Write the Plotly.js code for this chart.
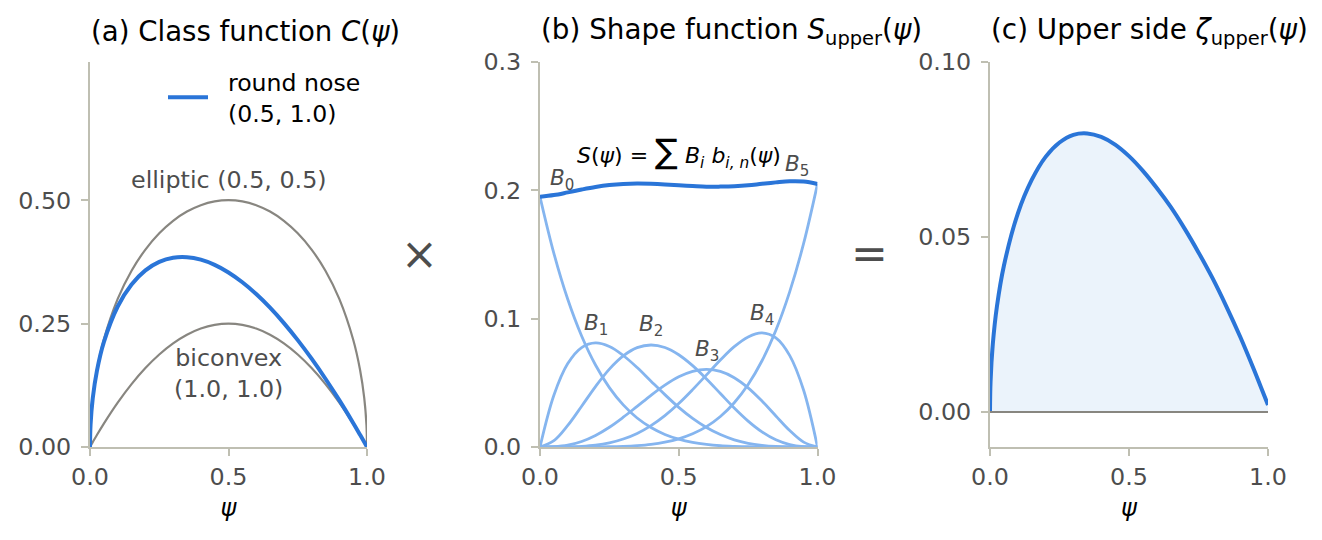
<!DOCTYPE html>
<html>
<head>
<meta charset="utf-8">
<script src="https://cdn.plot.ly/plotly-3.0.1.min.js"></script>
<style>html,body{margin:0;padding:0;background:#fff}</style>
</head>
<body>
<div id="chart" style="width:1322px;height:540px"></div>
<script>
// psi grid for panel (a) and (c), denser at the ends where the curves are steep
var psiFine = [0,0.002,0.01,0.025,0.05,0.1,0.15,0.2,0.25,0.3,0.35,0.4,0.45,0.5,0.55,0.6,0.65,0.7,0.75,0.8,0.85,0.9,0.95,0.975,0.99,0.998,1];
var elliptic = [0,0.0447,0.0995,0.1561,0.2179,0.3,0.3571,0.4,0.433,0.4583,0.477,0.4899,0.4975,0.5,0.4975,0.4899,0.477,0.4583,0.433,0.4,0.3571,0.3,0.2179,0.1561,0.0995,0.0447,0];
var biconvex = [0,0.002,0.0099,0.0244,0.0475,0.09,0.1275,0.16,0.1875,0.21,0.2275,0.24,0.2475,0.25,0.2475,0.24,0.2275,0.21,0.1875,0.16,0.1275,0.09,0.0475,0.0244,0.0099,0.002,0];
var roundNose = [0,0.0446,0.099,0.1542,0.2124,0.2846,0.3292,0.3578,0.375,0.3834,0.3845,0.3795,0.369,0.3536,0.3337,0.3098,0.2822,0.251,0.2165,0.1789,0.1383,0.0949,0.0487,0.0247,0.01,0.002,0];

// panel (b)
var psi = [0,0.05,0.1,0.15,0.2,0.25,0.3,0.35,0.4,0.45,0.5,0.55,0.6,0.65,0.7,0.75,0.8,0.85,0.9,0.95,1];
var b0 = [0.195,0.1509,0.1151,0.0865,0.0639,0.0463,0.0328,0.0226,0.0152,0.0098,0.0061,0.0036,0.002,0.001,0.0005,0.0002,0.0001,0,0,0,0];
var b1 = [0,0.0403,0.065,0.0775,0.0811,0.0783,0.0713,0.0619,0.0513,0.0408,0.0309,0.0223,0.0152,0.0097,0.0056,0.0029,0.0013,0.0004,0.0001,0,0];
var b2 = [0,0.0049,0.0168,0.0318,0.0471,0.0607,0.071,0.0774,0.0795,0.0775,0.0719,0.0634,0.053,0.0417,0.0304,0.0202,0.0118,0.0056,0.0019,0.0003,0];
var b3 = [0,0.0002,0.0014,0.0043,0.009,0.0154,0.0232,0.0317,0.0403,0.0482,0.0547,0.059,0.0605,0.0589,0.054,0.0461,0.0358,0.0242,0.0128,0.0038,0];
var b4 = [0,0,0.0001,0.0005,0.0014,0.0032,0.0062,0.0106,0.0167,0.0245,0.0339,0.0447,0.0562,0.0678,0.0782,0.0858,0.0889,0.085,0.0712,0.0442,0];
var b5 = [0,0,0,0,0.0001,0.0002,0.0005,0.0011,0.0021,0.0038,0.0064,0.0103,0.0159,0.0238,0.0345,0.0487,0.0672,0.091,0.1211,0.1586,0.205];
var shape = [0.195,0.1963,0.1984,0.2006,0.2026,0.2041,0.205,0.2053,0.2051,0.2046,0.2039,0.2033,0.2028,0.2029,0.2032,0.2039,0.2051,0.2062,0.2071,0.2069,0.205];

// panel (c)
var psiUpper = [0,0.002,0.01,0.025,0.05,0.1,0.15,0.2,0.25,0.3,0.35,0.4,0.45,0.5,0.55,0.6,0.65,0.7,0.75,0.8,0.85,0.9,0.95,0.975,1];
var upper = [0,0.0087,0.0193,0.0302,0.0418,0.0567,0.0663,0.0729,0.077,0.0792,0.0796,0.0786,0.0764,0.0731,0.0689,0.064,0.0586,0.0524,0.0456,0.0383,0.0302,0.0215,0.012,0.007,0.002];
var baseX = [0,1];
var baseY = [0,0];

var xTicks = [0,0.5,1];
var yTicksA = [0,0.25,0.5];
var yTicksB = [0,0.1,0.2,0.3];
var yTicksC = [0,0.05,0.1];

var BLUE = '#2a75d8', LIGHT = '#85b5ef', GREY = '#888680', AXIS = '#bfbfb2', TICK = '#4d4d4d';
var FONT = '"DejaVu Sans", sans-serif';
var W = 1322, H = 540;

function line(x, y, color, width, xa, ya, extra){
    var t = {x:x, y:y, xaxis:xa, yaxis:ya, mode:'lines', showlegend:false, hoverinfo:'skip',
             line:{color:color, width:width, shape:'spline', smoothing:1}};
    for (var k in extra){ t[k] = extra[k]; }
    return t;
}

var data = [
    line(psiFine, elliptic, GREY, 2.2, 'x', 'y', {cliponaxis:false}),
    line(psiFine, biconvex, GREY, 2.2, 'x', 'y', {cliponaxis:false}),
    line(psiFine, roundNose, BLUE, 4, 'x', 'y', {cliponaxis:false, showlegend:true, name:'&nbsp;&nbsp;round nose<br>&nbsp;&nbsp;(0.5, 1.0)'}),
    line(psi, b0, LIGHT, 2.8, 'x2', 'y2', {cliponaxis:false}),
    line(psi, b1, LIGHT, 2.8, 'x2', 'y2', {cliponaxis:false}),
    line(psi, b2, LIGHT, 2.8, 'x2', 'y2', {cliponaxis:false}),
    line(psi, b3, LIGHT, 2.8, 'x2', 'y2', {cliponaxis:false}),
    line(psi, b4, LIGHT, 2.8, 'x2', 'y2', {cliponaxis:false}),
    line(psi, b5, LIGHT, 2.8, 'x2', 'y2', {cliponaxis:false}),
    line(psi, shape, BLUE, 4, 'x2', 'y2', {cliponaxis:false}),
    line(psiUpper, upper, BLUE, 4, 'x3', 'y3', {fill:'tozeroy', fillcolor:'#ebf3fb'}),
    line(baseX, baseY, GREY, 2.2, 'x3', 'y3', {cliponaxis:false})
];

function xAxis(left, right, anchor){
    return {domain:[left/W, right/W], range:[0,1], anchor:anchor, tickmode:'array', tickvals:xTicks,
            ticktext:['0.0','0.5','1.0'], ticks:'outside', ticklen:7, tickwidth:2, tickcolor:AXIS,
            showline:true, linecolor:AXIS, linewidth:2, showgrid:false, zeroline:false,
            tickfont:{family:FONT, size:23.8, color:TICK},
            title:{text:'<i>ψ</i>', font:{family:FONT, size:24, color:'#000'}, standoff:10}};
}
function yAxis(range, vals, fmt, anchor){
    return {domain:[(H-447)/H, (H-62)/H], range:range, anchor:anchor, tickmode:'array', tickvals:vals,
            tickformat:fmt, ticks:'outside', ticklen:7, tickwidth:2, tickcolor:AXIS, ticklabelstandoff:5,
            showline:true, linecolor:AXIS, linewidth:2, showgrid:false, zeroline:false,
            tickfont:{family:FONT, size:23.8, color:TICK}};
}
function note(text, x, y, xref, yref, size, color, anchor){
    return {text:text, x:x, y:y, xref:xref, yref:yref, showarrow:false, xanchor:anchor || 'center', yanchor:'middle',
            font:{family:FONT, size:size, color:color}};
}
function px(x){ return x/W; }
function py(y){ return (H-y)/H; }

var annotations = [
    note('(a) Class function <i>C</i>(<i>ψ</i>)', px(89), py(31), 'paper', 'paper', 27.6, '#000', 'left'),
    note('(b) Shape function <i>S</i><sub>upper</sub>(<i>ψ</i>)', px(539), py(32), 'paper', 'paper', 27.8, '#000', 'left'),
    note('(c) Upper side <i>ζ</i><sub>upper</sub>(<i>ψ</i>)', px(989), py(32), 'paper', 'paper', 27.8, '#000', 'left'),
    note('elliptic (0.5, 0.5)', 0.5, 0.54, 'x', 'y', 23.8, TICK),
    note('biconvex<br>(1.0, 1.0)', 0.5, 0.149, 'x', 'y', 23.8, TICK),
    note('×', px(419), py(254), 'paper', 'paper', 44, TICK),
    note('=', px(869), py(253), 'paper', 'paper', 44, TICK),
    note('<i>S</i>(<i>ψ</i>) = <span style="font-size:34px">∑</span> <i>B<sub>i</sub> b<sub>i, n</sub></i>(<i>ψ</i>)', 0.5, 0.2305, 'x2', 'y2', 22, '#000'),
    note('<i>B</i><sub>0</sub>', 0.08, 0.2085, 'x2', 'y2', 21.5, TICK),
    note('<i>B</i><sub>1</sub>', 0.2, 0.0955, 'x2', 'y2', 21.5, TICK),
    note('<i>B</i><sub>2</sub>', 0.4, 0.095, 'x2', 'y2', 21.5, TICK),
    note('<i>B</i><sub>3</sub>', 0.6, 0.0755, 'x2', 'y2', 21.5, TICK),
    note('<i>B</i><sub>4</sub>', 0.8, 0.1035, 'x2', 'y2', 21.5, TICK),
    note('<i>B</i><sub>5</sub>', 0.925, 0.2195, 'x2', 'y2', 21.5, TICK)
];

var layout = {
    width:W, height:H, margin:{l:0, r:0, t:0, b:0}, paper_bgcolor:'#fff', plot_bgcolor:'#fff',
    font:{family:FONT},
    xaxis:xAxis(90, 367, 'y'), yaxis:yAxis([0,0.78], yTicksA, '.2f', 'x'),
    xaxis2:xAxis(540, 817.5, 'y2'), yaxis2:yAxis([0,0.3], yTicksB, '.1f', 'x2'),
    xaxis3:xAxis(990, 1268, 'y3'), yaxis3:yAxis([-0.01,0.1], yTicksC, '.2f', 'x3'),
    legend:{x:px(163), y:py(60), xanchor:'left', yanchor:'top', bgcolor:'rgba(0,0,0,0)', itemwidth:40,
            font:{family:FONT, size:23.6, color:'#000'}},
    annotations:annotations
};

Plotly.newPlot('chart', data, layout, {displayModeBar:false, staticPlot:true});
</script>
</body>
</html>
